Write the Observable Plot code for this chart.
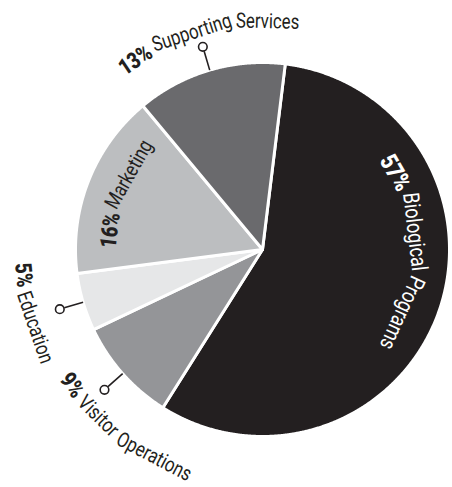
<!DOCTYPE html>
<html>
<head>
<meta charset="utf-8">
<script src="https://cdn.jsdelivr.net/npm/d3@7"></script>
<script src="https://cdn.jsdelivr.net/npm/@observablehq/plot@0.6"></script>
<style>
  html, body { margin: 0; padding: 0; background: #fff; }
  #chart { width: 452px; height: 487px; }
</style>
</head>
<body>
<div id="chart"></div>
<script>
// ---- data ----
const categories = ["Biological Programs", "Visitor Operations", "Education", "Marketing", "Supporting Services"];
const percents = [57, 9, 5, 16, 13];
const percentLabels = ["57%", "9%", "5%", "16%", "13%"];
const colors = ["#231f20", "#949598", "#e6e7e8", "#bcbec0", "#6a6a6d"];
const labelColors = ["#ffffff", "#231f20", "#231f20", "#231f20", "#231f20"];
const hasLeader = [false, true, true, false, true];

// ---- layout ----
const W = 452, H = 487;
const cx = 262, cy = 249, R = 187;
const startAngle = 7; // degrees clockwise from 12 o'clock
const labelLayout = [
  {r: 0.82, angle: 91,    dir: "cw",  anchor: "middle", k: 1.07},
  {r: 1.25, angle: 237.5, dir: "ccw", anchor: "start",  k: 1},
  {r: 1.285, angle: 254.5, dir: "ccw", anchor: "middle", k: 1},
  {r: 0.82, angle: 292,   dir: "cw",  anchor: "middle", k: 1},
  {r: 1.22, angle: 345.5, dir: "cw",  anchor: "middle", k: 1}
];
const fontFamily = "Roboto, 'Liberation Sans', sans-serif";
const fontSize = 21;
const boldSize = 23;

const ctx = document.createElement("canvas").getContext("2d");
function w(font, t) { ctx.font = font; return ctx.measureText(t).width; }
// horizontal squeeze to imitate the condensed face of the original
const squeeze = Math.max(0.55, Math.min(1, 150 / w(`400 ${fontSize}px ${fontFamily}`, "Supporting Services")));
function measure(t, bold, k) {
  return squeeze * w(`${bold ? 900 : 400} ${(bold ? boldSize : fontSize) * k}px ${fontFamily}`, t);
}

const rad = d => d * Math.PI / 180;
const px = (r, a) => r * Math.sin(rad(a));
const py = (r, a) => -r * Math.cos(rad(a));

// slices
const slices = [];
let acc = startAngle;
categories.forEach((c, i) => {
  const a0 = acc, a1 = acc + percents[i] / 100 * 360;
  acc = a1;
  const pts = [{x: 0, y: 0}];
  const n = Math.max(2, Math.ceil((a1 - a0) / 0.25));
  for (let k = 0; k <= n; k++) {
    const a = a0 + (a1 - a0) * k / n;
    pts.push({x: px(1, a), y: py(1, a)});
  }
  slices.push({cat: c, a0, a1, mid: (a0 + a1) / 2, pts, color: colors[i]});
});

const words = [];
categories.forEach((c, i) => {
  const L = labelLayout[i];
  const segs = [{t: percentLabels[i], bold: true}, ...c.split(" ").map(t => ({t, bold: false}))];
  const space = measure(" ", false, L.k);
  const ws = segs.map(s => measure(s.t, s.bold, L.k));
  const total = ws.reduce((a, b) => a + b, 0) + space * (segs.length - 1);
  const rPix = L.r * R;
  const sign = L.dir === "cw" ? 1 : -1;
  const totalDeg = total / rPix * 180 / Math.PI;
  const a0 = L.anchor === "middle" ? L.angle - sign * totalDeg / 2 : L.angle;
  let o = 0;
  segs.forEach((s, k) => {
    const c = o + ws[k] / 2;
    const a = a0 + sign * (c / rPix) * 180 / Math.PI;
    o += ws[k] + space;
    const rot = L.dir === "cw" ? a : a + 180;
    words.push({text: s.t, bold: s.bold, size: (s.bold ? boldSize : fontSize) * L.k,
      x: px(L.r, a), y: py(L.r, a), rotate: ((rot % 360) + 360) % 360, color: labelColors[i]});
  });
});

const leaders = slices.filter((s, i) => hasLeader[i]).map(s => ({
  x1: px(1.0, s.mid), y1: py(1.0, s.mid),
  x2: px(1.105, s.mid), y2: py(1.105, s.mid),
  cx: px(1.13, s.mid), cy: py(1.13, s.mid)
}));

const chart = Plot.plot({
  width: W, height: H,
  margin: 0,
  x: {domain: [-1, 1], range: [cx - R, cx + R], axis: null},
  y: {domain: [-1, 1], range: [cy - R, cy + R], axis: null},
  style: {background: "#fff"},
  marks: [
    ...slices.map(s => Plot.line(s.pts, {x: "x", y: "y", curve: "linear-closed", fill: s.color, stroke: "#fff", strokeWidth: 3, strokeLinejoin: "round"})),
    Plot.link(leaders, {x1: "x1", y1: "y1", x2: "x2", y2: "y2", stroke: "#231f20", strokeWidth: 1.6}),
    Plot.dot(leaders, {x: "cx", y: "cy", r: 4.3, stroke: "#231f20", strokeWidth: 1.6, fill: "#fff"}),
    Plot.text(words.filter(w => !w.bold), {x: "x", y: "y", text: "text", rotate: "rotate", fill: "color", fontSize: "size", fontFamily, fontWeight: 400, textAnchor: "middle", lineAnchor: "middle"}),
    Plot.text(words.filter(w => w.bold), {x: "x", y: "y", text: "text", rotate: "rotate", fill: "color", fontSize: "size", fontWeight: 900, fontFamily, textAnchor: "middle", lineAnchor: "middle"})
  ]
});
// condense the glyphs along their own baseline
d3.select(chart).selectAll("text").each(function () {
  const t = this.getAttribute("transform") || "";
  this.setAttribute("transform", `${t} scale(${squeeze},1)`);
});
document.getElementById("chart").appendChild(chart);
</script>
</body>
</html>
